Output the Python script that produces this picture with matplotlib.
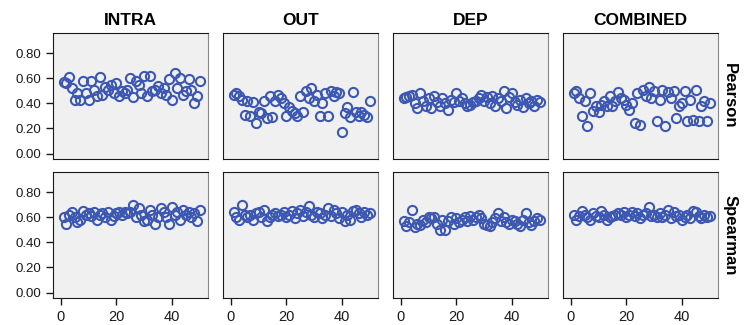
import numpy as np
import matplotlib
matplotlib.use("Agg")
import matplotlib.pyplot as plt

plt.rcParams["font.family"] = ["Liberation Sans", "DejaVu Sans"]

columns = ["INTRA", "OUT", "DEP", "COMBINED"]
rows = ["Pearson", "Spearman"]
runs = np.arange(1, 51)

pearson_intra = [0.57, 0.56, 0.61, 0.52, 0.43, 0.48, 0.43, 0.58, 0.48, 0.43,
                 0.58, 0.51, 0.46, 0.61, 0.47, 0.53, 0.51, 0.55, 0.48, 0.56,
                 0.46, 0.50, 0.48, 0.51, 0.60, 0.45, 0.58, 0.55, 0.48, 0.62,
                 0.46, 0.62, 0.50, 0.51, 0.54, 0.48, 0.52, 0.47, 0.59, 0.43,
                 0.64, 0.52, 0.60, 0.47, 0.50, 0.59, 0.51, 0.40, 0.46, 0.58]
pearson_out = [0.47, 0.48, 0.46, 0.43, 0.31, 0.42, 0.30, 0.41, 0.24, 0.33,
               0.32, 0.42, 0.28, 0.46, 0.29, 0.42, 0.47, 0.44, 0.40, 0.30,
               0.37, 0.34, 0.32, 0.30, 0.46, 0.33, 0.50, 0.44, 0.52, 0.42,
               0.47, 0.30, 0.40, 0.48, 0.30, 0.50, 0.46, 0.49, 0.48, 0.17,
               0.32, 0.37, 0.29, 0.49, 0.33, 0.30, 0.33, 0.31, 0.29, 0.42]
pearson_dep = [0.44, 0.45, 0.46, 0.47, 0.40, 0.36, 0.48, 0.42, 0.38, 0.44,
               0.36, 0.46, 0.41, 0.38, 0.44, 0.40, 0.35, 0.43, 0.41, 0.48,
               0.42, 0.44, 0.40, 0.38, 0.39, 0.41, 0.42, 0.44, 0.47, 0.42,
               0.45, 0.40, 0.46, 0.38, 0.44, 0.42, 0.50, 0.36, 0.45, 0.48,
               0.41, 0.39, 0.43, 0.37, 0.44, 0.40, 0.42, 0.38, 0.43, 0.41]
pearson_comb = [0.48, 0.50, 0.44, 0.30, 0.42, 0.22, 0.48, 0.34, 0.38, 0.33,
                0.39, 0.42, 0.38, 0.46, 0.38, 0.42, 0.49, 0.44, 0.43, 0.39,
                0.35, 0.40, 0.24, 0.48, 0.23, 0.51, 0.46, 0.53, 0.44, 0.50,
                0.26, 0.43, 0.51, 0.22, 0.49, 0.44, 0.50, 0.28, 0.38, 0.40,
                0.50, 0.26, 0.43, 0.27, 0.51, 0.26, 0.38, 0.42, 0.26, 0.40]

spearman_intra = [0.60, 0.55, 0.62, 0.64, 0.60, 0.56, 0.58, 0.65, 0.62, 0.63,
                  0.61, 0.64, 0.58, 0.62, 0.63, 0.60, 0.64, 0.58, 0.61, 0.63,
                  0.64, 0.62, 0.64, 0.63, 0.64, 0.70, 0.60, 0.67, 0.62, 0.57,
                  0.58, 0.66, 0.62, 0.55, 0.60, 0.67, 0.64, 0.60, 0.55, 0.68,
                  0.62, 0.64, 0.58, 0.66, 0.62, 0.64, 0.60, 0.63, 0.57, 0.66]
spearman_out = [0.64, 0.60, 0.58, 0.70, 0.62, 0.60, 0.62, 0.58, 0.63, 0.64,
                0.60, 0.66, 0.57, 0.60, 0.62, 0.63, 0.61, 0.62, 0.64, 0.60,
                0.62, 0.65, 0.59, 0.63, 0.66, 0.61, 0.64, 0.69, 0.62, 0.60,
                0.64, 0.63, 0.59, 0.62, 0.67, 0.61, 0.66, 0.63, 0.59, 0.64,
                0.57, 0.62, 0.58, 0.65, 0.66, 0.63, 0.60, 0.64, 0.62, 0.63]
spearman_dep = [0.57, 0.53, 0.56, 0.66, 0.52, 0.55, 0.54, 0.58, 0.56, 0.60,
                0.59, 0.60, 0.55, 0.50, 0.58, 0.50, 0.57, 0.60, 0.55, 0.59,
                0.56, 0.58, 0.60, 0.57, 0.61, 0.58, 0.60, 0.62, 0.59, 0.55,
                0.54, 0.53, 0.56, 0.59, 0.63, 0.57, 0.60, 0.56, 0.55, 0.58,
                0.57, 0.55, 0.53, 0.58, 0.63, 0.56, 0.54, 0.57, 0.59, 0.58]
spearman_comb = [0.62, 0.58, 0.61, 0.65, 0.62, 0.60, 0.58, 0.63, 0.61, 0.60,
                 0.65, 0.62, 0.58, 0.60, 0.61, 0.62, 0.63, 0.62, 0.64, 0.60,
                 0.62, 0.64, 0.61, 0.63, 0.59, 0.62, 0.63, 0.68, 0.61, 0.62,
                 0.60, 0.63, 0.60, 0.62, 0.66, 0.59, 0.64, 0.61, 0.62, 0.58,
                 0.60, 0.62, 0.59, 0.65, 0.64, 0.61, 0.59, 0.62, 0.60, 0.61]

data = [
    [pearson_intra, pearson_out, pearson_dep, pearson_comb],
    [spearman_intra, spearman_out, spearman_dep, spearman_comb],
]

yticks = [0.0, 0.2, 0.4, 0.6, 0.8]
xticks = [0, 20, 40]

W, H = 744, 325
fig = plt.figure(figsize=(W / 100, H / 100), dpi=100)

lefts = [53, 223, 393, 563]
tops = [33, 172]
pw, ph = 155, 126

for r in range(2):
    for c in range(4):
        ax = fig.add_axes([lefts[c] / W, 1 - (tops[r] + ph) / H, pw / W, ph / H])
        ax.set_facecolor("#f0f0f0")
        ax.plot(runs, data[r][c], "o", ms=6.6, mfc="none", mec="#3d58b2", mew=1.5)
        ax.set_xlim(-2.8, 53)
        ax.set_ylim(-0.043, 0.96)
        ax.set_yticks(yticks)
        ax.set_xticks(xticks)
        for side in ["left", "bottom", "top"]:
            ax.spines[side].set_color("#1a1a1a")
        ax.spines["right"].set_color("#888888")
        ax.tick_params(direction="out", length=5, width=1, labelsize=9.5, colors="#1a1a1a")
        if c == 0:
            ax.set_yticklabels([f"{v:.2f}" for v in yticks])
        else:
            ax.tick_params(axis="y", left=False, labelleft=False)
        if r == 1:
            ax.set_xticklabels([str(v) for v in xticks])
            ax.tick_params(axis="x", labelsize=10.5)
        else:
            ax.tick_params(axis="x", bottom=False, labelbottom=False)
        if r == 0:
            ax.set_title(columns[c], fontsize=12.5, fontweight="bold", pad=6)
        if c == 3:
            ax.text(1.075, 0.5, rows[r], transform=ax.transAxes, rotation=-90,
                    ha="center", va="center", fontsize=12, fontweight="bold")

fig.savefig("out.png", dpi=100)
